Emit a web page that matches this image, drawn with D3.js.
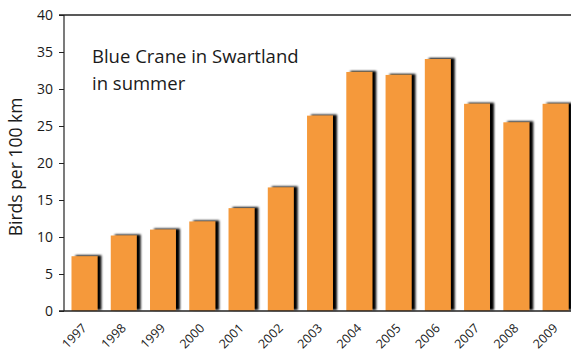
<!DOCTYPE html>
<html>
<head>
<meta charset="utf-8">
<script src="https://cdn.jsdelivr.net/npm/d3@7"></script>
<style>
  html, body { margin: 0; padding: 0; background: #fff; }
  svg { display: block; }
  text { font-family: "Open Sans", "Noto Sans", sans-serif; fill: #1a1a1a; }
</style>
</head>
<body>
<svg id="chart" width="571" height="353"></svg>
<script>
// Blue Crane counts, birds per 100 km of road, summer surveys
const years = ["1997","1998","1999","2000","2001","2002","2003","2004","2005","2006","2007","2008","2009"];
const birds = [7.4, 10.2, 11.0, 12.1, 13.9, 16.7, 26.4, 32.3, 31.9, 34.05, 28.0, 25.5, 28.0];
const yTicks = [0, 5, 10, 15, 20, 25, 30, 35, 40];
const titleLines = ["Blue Crane in Swartland", "in summer"];
const yLabel = "Birds per 100 km";

const svg = d3.select("#chart");
const plotLeft = 64, plotTop = 15, plotBottom = 311, plotRight = 571;

const x = d3.scaleBand().domain(years).range([66, 574]).paddingInner(0.34).paddingOuter(0.14);
const y = d3.scaleLinear().domain([0, 40]).range([plotBottom, plotTop]);

// dark drop shadow falling to the right of each bar
const defs = svg.append("defs");
const f = defs.append("filter").attr("id", "shadow")
  .attr("x", "-20%").attr("y", "-10%").attr("width", "160%").attr("height", "130%");
f.append("feGaussianBlur").attr("in", "SourceAlpha").attr("stdDeviation", 0.9).attr("result", "b");
f.append("feOffset").attr("in", "b").attr("dx", 4).attr("dy", -1.5).attr("result", "o");
const m = f.append("feMerge");
m.append("feMergeNode").attr("in", "o");
m.append("feMergeNode").attr("in", "SourceGraphic");

// bars
svg.append("g").selectAll("rect").data(years).join("rect")
  .attr("x", d => x(d))
  .attr("y", (d, i) => y(birds[i]))
  .attr("width", x.bandwidth())
  .attr("height", (d, i) => y(0) - y(birds[i]))
  .attr("fill", "#F5993A")
  .attr("filter", "url(#shadow)");

// y axis
const yAxis = d3.axisLeft(y).tickValues(yTicks).tickSize(5).tickPadding(6);
const gy = svg.append("g").attr("transform", `translate(${plotLeft},0)`).call(yAxis);
gy.select(".domain").remove();
gy.selectAll(".tick line").attr("stroke", "#222");
gy.selectAll(".tick text").attr("font-size", 14).style("fill", "#1a1a1a");
gy.append("line").attr("x1", 0).attr("x2", 0).attr("y1", plotTop).attr("y2", plotBottom)
  .attr("stroke", "#222").attr("stroke-width", 1.2);

// top frame line and baseline
svg.append("line").attr("x1", plotLeft - 5).attr("x2", plotRight).attr("y1", plotTop).attr("y2", plotTop)
  .attr("stroke", "#222").attr("stroke-width", 1.3);
svg.append("line").attr("x1", plotLeft - 5).attr("x2", plotRight).attr("y1", plotBottom).attr("y2", plotBottom)
  .attr("stroke", "#222").attr("stroke-width", 1.3);

// x labels, rotated
const xAxis = d3.axisBottom(x).tickSize(0).tickPadding(0);
const gx = svg.append("g").attr("transform", `translate(0,${plotBottom})`).call(xAxis);
gx.select(".domain").remove();
gx.selectAll(".tick text")
  .attr("font-size", 12.5)
  .attr("text-anchor", "end")
  .attr("dy", 0)
  .attr("transform", "translate(3,18) rotate(-45)")
  .style("fill", "#1a1a1a");

// y axis title
svg.append("text")
  .attr("transform", `translate(22,${(plotTop + plotBottom) / 2 + 4}) rotate(-90)`)
  .attr("text-anchor", "middle")
  .attr("font-size", 17.5)
  .text(yLabel);

// chart title
svg.append("g").selectAll("text").data(titleLines).join("text")
  .attr("x", 92).attr("y", (d, i) => 63 + i * 27)
  .attr("font-size", 18.5)
  .text(d => d);
</script>
</body>
</html>
